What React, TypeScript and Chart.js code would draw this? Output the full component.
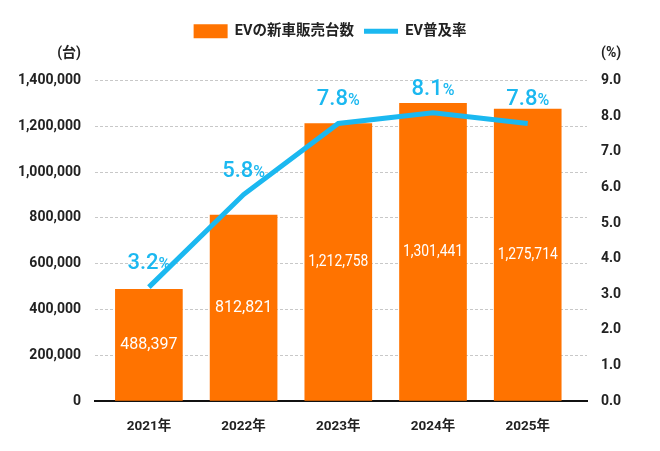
import { Chart, ChartConfiguration, Plugin, registerables } from "chart.js";
import { useEffect, useRef } from "react";

Chart.register(...registerables);

const years = ["2021年", "2022年", "2023年", "2024年", "2025年"];
const sales = [488397, 812821, 1212758, 1301441, 1275714];
const shares = [3.2, 5.8, 7.8, 8.1, 7.8];

const ORANGE = "#ff7300";
const BLUE = "#1bb8f0";
const DARK = "#222222";
const FONT = "Roboto, 'Noto Sans CJK JP', sans-serif";

// values inside the bars and the % labels above the line
const valueLabels: Plugin = {
  id: "valueLabels",
  afterDatasetsDraw(chart) {
    const { ctx } = chart;
    ctx.save();

    const barMeta = chart.getDatasetMeta(0);
    ctx.fillStyle = "#ffffff";
    ctx.font = `400 16px ${FONT}`;
    ctx.textAlign = "center";
    ctx.textBaseline = "middle";
    barMeta.data.forEach((bar: any, i) => {
      const y = (bar.y + bar.base) / 2;
      ctx.fillText(sales[i].toLocaleString("en-US"), bar.x, y, 60);
    });

    const lineMeta = chart.getDatasetMeta(1);
    ctx.fillStyle = BLUE;
    ctx.textBaseline = "alphabetic";
    ctx.textAlign = "left";
    lineMeta.data.forEach((pt: any, i) => {
      const num = shares[i].toFixed(1);
      ctx.font = `500 22px ${FONT}`;
      const wNum = ctx.measureText(num).width;
      ctx.font = `500 16px ${FONT}`;
      const wPct = ctx.measureText("%").width;
      const x0 = pt.x - (wNum + wPct) / 2;
      const y = pt.y - 18;
      ctx.font = `500 22px ${FONT}`;
      ctx.fillText(num, x0, y);
      ctx.font = `500 16px ${FONT}`;
      ctx.fillText("%", x0 + wNum, y);
    });

    ctx.restore();
  },
};

// unit captions above both y axes
const unitLabels: Plugin = {
  id: "unitLabels",
  afterDraw(chart) {
    const { ctx, chartArea } = chart;
    const left = chart.scales.y;
    const right = chart.scales.y1;
    ctx.save();
    ctx.fillStyle = DARK;
    ctx.font = `700 14px ${FONT}`;
    ctx.textBaseline = "middle";
    ctx.textAlign = "right";
    ctx.fillText("(台)", left.right - 14, chartArea.top - 27);
    ctx.textAlign = "left";
    ctx.fillText("(%)", right.left + 14, chartArea.top - 27);
    ctx.restore();
  },
};

export default function App() {
  const canvasRef = useRef<HTMLCanvasElement | null>(null);

  useEffect(() => {
    if (!canvasRef.current) return;

    const config: ChartConfiguration = {
      type: "bar",
      data: {
        datasets: [
          {
            type: "bar",
            label: "EVの新車販売台数",
            data: years.map((_, i) => ({ x: i, y: sales[i] })),
            backgroundColor: ORANGE,
            borderWidth: 0,
            barThickness: 67,
            yAxisID: "y",
            order: 1,
          },
          {
            type: "line",
            label: "EV普及率",
            data: years.map((_, i) => ({ x: i, y: shares[i] })),
            borderColor: BLUE,
            backgroundColor: BLUE,
            borderWidth: 5,
            pointRadius: 0,
            tension: 0,
            yAxisID: "y1",
            order: 0,
          },
        ],
      } as any,
      options: {
        responsive: true,
        maintainAspectRatio: false,
        animation: false,
        layout: { padding: { top: 14, left: 0, right: 0, bottom: 0 } },
        scales: {
          x: {
            type: "linear",
            min: -0.569,
            max: 4.626,
            offset: false,
            grid: { display: false, offset: false },
            border: { display: true, color: "#111111", width: 2 },
            ticks: {
              stepSize: 1,
              includeBounds: false,
              autoSkip: false,
              padding: 10,
              color: DARK,
              font: { family: FONT, size: 13.5, weight: "bold" },
              callback: (v) => years[Number(v)] ?? "",
            },
            afterFit: (scale) => {
              scale.height = 50;
            },
          },
          y: {
            position: "left",
            min: 0,
            max: 1400000,
            grid: {
              color: (c) => (c.tick && c.tick.value === 0 ? "rgba(0,0,0,0)" : "#c8c8c8"),
              lineWidth: 1,
              drawTicks: false,
            },
            border: { display: false, dash: [3, 2] },
            ticks: {
              stepSize: 200000,
              padding: 14,
              color: DARK,
              font: { family: FONT, size: 14, weight: "bold" },
              callback: (v) => Number(v).toLocaleString("en-US"),
            },
            afterFit: (scale) => {
              scale.width = 95;
            },
          },
          y1: {
            position: "right",
            min: 0,
            max: 9,
            grid: { display: false, drawTicks: false },
            border: { display: false },
            ticks: {
              stepSize: 1,
              padding: 14,
              color: DARK,
              font: { family: FONT, size: 14, weight: "bold" },
              callback: (v) => Number(v).toFixed(1),
            },
            afterFit: (scale) => {
              scale.width = 73;
            },
          },
        },
        plugins: {
          legend: {
            display: true,
            position: "top",
            labels: {
              usePointStyle: true,
              pointStyleWidth: 34,
              boxWidth: 34,
              boxHeight: 14,
              padding: 10,
              color: DARK,
              font: { family: FONT, size: 14.5, weight: "bold" },
              sort: (a, b) => (a.datasetIndex ?? 0) - (b.datasetIndex ?? 0),
              generateLabels: (chart) =>
                Chart.defaults.plugins.legend.labels
                  .generateLabels(chart)
                  .map((item) =>
                    item.datasetIndex === 0
                      ? { ...item, pointStyle: "rect", fillStyle: ORANGE, strokeStyle: ORANGE, lineWidth: 0 }
                      : { ...item, pointStyle: "line", fillStyle: BLUE, strokeStyle: BLUE, lineWidth: 5 }
                  ),
            },
          },
          title: {
            display: true,
            text: "",
            weight: 500,
            padding: { top: 31, bottom: 0 },
            font: { size: 1 },
          } as any,
          tooltip: { enabled: false },
        },
      },
      plugins: [valueLabels, unitLabels],
    };

    const chart = new Chart(canvasRef.current, config);

    return () => {
      chart.destroy();
    };
  }, []);

  return (
    <div style={{ position: "absolute", left: 0, top: 0, width: 660, height: 451 }}>
      <canvas ref={canvasRef} />
    </div>
  );
}
